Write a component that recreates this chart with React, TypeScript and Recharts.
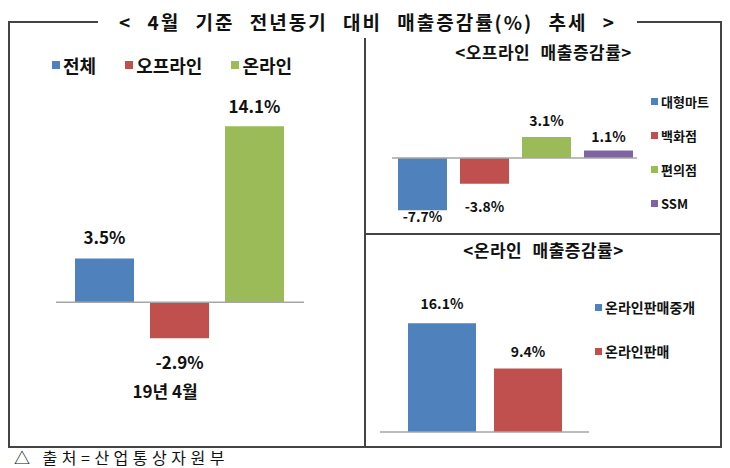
import React from "react";
import { BarChart, Bar, XAxis, YAxis, ReferenceLine, LabelList, Legend } from "recharts";

const FONT = "'Noto Sans CJK KR', 'Noto Sans', sans-serif";

const monthCategory = ["19년 4월"];

const totalSeries = ["전체", "오프라인", "온라인"];
const totalValues = [3.5, -2.9, 14.1];
const totalColors = ["#4F81BD", "#C0504D", "#9BBB59"];

const offlineSeries = ["대형마트", "백화점", "편의점", "SSM"];
const offlineValues = [-7.7, -3.8, 3.1, 1.1];
const offlineColors = ["#4F81BD", "#C0504D", "#9BBB59", "#8064A2"];

const onlineSeries = ["온라인판매중개", "온라인판매"];
const onlineValues = [16.1, 9.4];
const onlineColors = ["#4F81BD", "#C0504D"];

// one category row, one key per series
function toRows(names: string[], values: number[]) {
  const row: Record<string, string | number> = { name: monthCategory[0] };
  names.forEach((n, i) => {
    row[n] = values[i];
  });
  return [row];
}

const pct = (v: any) => `${Number(v).toFixed(1)}%`;

function SquareLegend(props: any) {
  const { payload = [], vertical, gap, fontSize, box, order } = props;
  // recharts sorts legend items by name; put them back in series order
  const items = [...payload].sort((a: any, b: any) => order.indexOf(a.value) - order.indexOf(b.value));
  return (
    <div
      style={{
        display: "flex",
        flexDirection: vertical ? "column" : "row",
        gap,
        fontFamily: FONT,
        fontWeight: 700,
        fontSize,
        color: "#111",
        lineHeight: 1,
      }}
    >
      {items.map((p: any) => (
        <div key={p.value} style={{ display: "flex", alignItems: "center" }}>
          <span style={{ width: box, height: box, background: p.color, marginRight: 3, display: "inline-block" }} />
          <span>{p.value}</span>
        </div>
      ))}
    </div>
  );
}

function MonthTick({ x, y, payload }: any) {
  return (
    <text x={x - 15} y={y + 13} textAnchor="middle" fontFamily={FONT} fontWeight={700} fontSize={17} fill="#111">
      {payload.value}
    </text>
  );
}

const line = "#444";

export default function App() {
  const totalOffsets = [14, 19, 13];
  const offlineOffsets = [2, 18, 11, 9];
  const onlineOffsets = [14, 12];

  return (
    <div style={{ position: "absolute", left: 0, top: 0, width: 730, height: 468, background: "#fff", fontFamily: FONT, overflow: "hidden" }}>
      {/* frame */}
      <div style={{ position: "absolute", left: 8, top: 21, width: 90, height: 2, background: line }} />
      <div style={{ position: "absolute", left: 637, top: 21, width: 85, height: 2, background: line }} />
      <div style={{ position: "absolute", left: 8, top: 21, width: 2, height: 427, background: line }} />
      <div style={{ position: "absolute", left: 720, top: 21, width: 2, height: 427, background: line }} />
      <div style={{ position: "absolute", left: 8, top: 446, width: 714, height: 2, background: line }} />
      <div style={{ position: "absolute", left: 364, top: 38, width: 2, height: 410, background: line }} />
      <div style={{ position: "absolute", left: 364, top: 233, width: 358, height: 2, background: line }} />

      <div
        style={{
          position: "absolute",
          left: 100,
          width: 535,
          top: 8,
          textAlign: "center",
          fontWeight: 700,
          fontSize: 19,
          letterSpacing: 2,
          wordSpacing: 9,
          lineHeight: "28px",
          color: "#111",
          whiteSpace: "nowrap",
        }}
      >
        {"< 4월 기준 전년동기 대비 매출증감률(%) 추세 >"}
      </div>

      {/* left: overall */}
      <div style={{ position: "absolute", left: 0, top: 0 }}>
        <BarChart
          width={366}
          height={447}
          data={toRows(totalSeries, totalValues)}
          margin={{ top: 115, right: 62, bottom: 40, left: 56 }}
          barCategoryGap={19}
          barGap={16}
        >
          <XAxis dataKey="name" height={30} axisLine={false} tickLine={false} tick={<MonthTick />} />
          <YAxis hide domain={[-6, 15]} />
          <Legend
            layout="horizontal"
            align="center"
            verticalAlign="middle"
            wrapperStyle={{ left: 52, top: 56, width: 300 }}
            content={(p: any) => <SquareLegend {...p} order={totalSeries} gap={29} fontSize={18} box={8} />}
          />
          <ReferenceLine y={0} stroke="#A6A6A6" strokeWidth={1.5} />
          {totalSeries.map((s, i) => (
            <Bar key={s} dataKey={s} name={s} fill={totalColors[i]} isAnimationActive={false}>
              <LabelList
                dataKey={s}
                position="top"
                offset={totalOffsets[i]}
                formatter={pct}
                fill="#111"
                fontSize={17}
                fontWeight={700}
                fontFamily={FONT}
              />
            </Bar>
          ))}
        </BarChart>
      </div>

      {/* right top: offline */}
      <div
        style={{
          position: "absolute",
          left: 366,
          width: 355,
          top: 40,
          textAlign: "center",
          fontWeight: 700,
          fontSize: 17,
          letterSpacing: 0.5,
          wordSpacing: 6,
          lineHeight: "24px",
          color: "#111",
        }}
      >
        {"<오프라인 매출증감률>"}
      </div>
      <div style={{ position: "absolute", left: 366, top: 30 }}>
        <BarChart
          width={355}
          height={204}
          data={toRows(offlineSeries, offlineValues)}
          margin={{ top: 60, right: 84, bottom: 8, left: 26 }}
          barCategoryGap={6}
          barGap={13}
        >
          <XAxis dataKey="name" hide />
          <YAxis hide domain={[-10, 10]} />
          <Legend
            layout="vertical"
            align="center"
            verticalAlign="middle"
            wrapperStyle={{ left: 285, top: 65, width: 80 }}
            content={(p: any) => <SquareLegend {...p} order={offlineSeries} vertical gap={21} fontSize={13} box={7} />}
          />
          <ReferenceLine y={0} stroke="#A6A6A6" strokeWidth={1.5} />
          {offlineSeries.map((s, i) => (
            <Bar key={s} dataKey={s} name={s} fill={offlineColors[i]} isAnimationActive={false}>
              <LabelList
                dataKey={s}
                position="top"
                offset={offlineOffsets[i]}
                formatter={pct}
                fill="#111"
                fontSize={14}
                fontWeight={700}
                fontFamily={FONT}
              />
            </Bar>
          ))}
        </BarChart>
      </div>

      {/* right bottom: online */}
      <div
        style={{
          position: "absolute",
          left: 366,
          width: 355,
          top: 238,
          textAlign: "center",
          fontWeight: 700,
          fontSize: 17,
          letterSpacing: 0.5,
          wordSpacing: 6,
          lineHeight: "24px",
          color: "#111",
        }}
      >
        {"<온라인 매출증감률>"}
      </div>
      <div style={{ position: "absolute", left: 366, top: 234 }}>
        <BarChart
          width={355}
          height={213}
          data={toRows(onlineSeries, onlineValues)}
          margin={{ top: 63, right: 132, bottom: 15, left: 14 }}
          barCategoryGap={28}
          barGap={18}
        >
          <XAxis dataKey="name" hide />
          <YAxis hide domain={[0, 20]} />
          <Legend
            layout="vertical"
            align="center"
            verticalAlign="middle"
            wrapperStyle={{ left: 229, top: 66, width: 120 }}
            content={(p: any) => <SquareLegend {...p} order={onlineSeries} vertical gap={30} fontSize={14} box={7} />}
          />
          <ReferenceLine y={0} stroke="#A6A6A6" strokeWidth={1.5} />
          {onlineSeries.map((s, i) => (
            <Bar key={s} dataKey={s} name={s} fill={onlineColors[i]} isAnimationActive={false}>
              <LabelList
                dataKey={s}
                position="top"
                offset={onlineOffsets[i]}
                formatter={pct}
                fill="#111"
                fontSize={14}
                fontWeight={700}
                fontFamily={FONT}
              />
            </Bar>
          ))}
        </BarChart>
      </div>

      <div
        style={{
          position: "absolute",
          left: 14,
          top: 449,
          fontSize: 16,
          letterSpacing: 4.5,
          lineHeight: "16px",
          color: "#111",
          whiteSpace: "nowrap",
        }}
      >
        {"△ 출처=산업통상자원부"}
      </div>
    </div>
  );
}
